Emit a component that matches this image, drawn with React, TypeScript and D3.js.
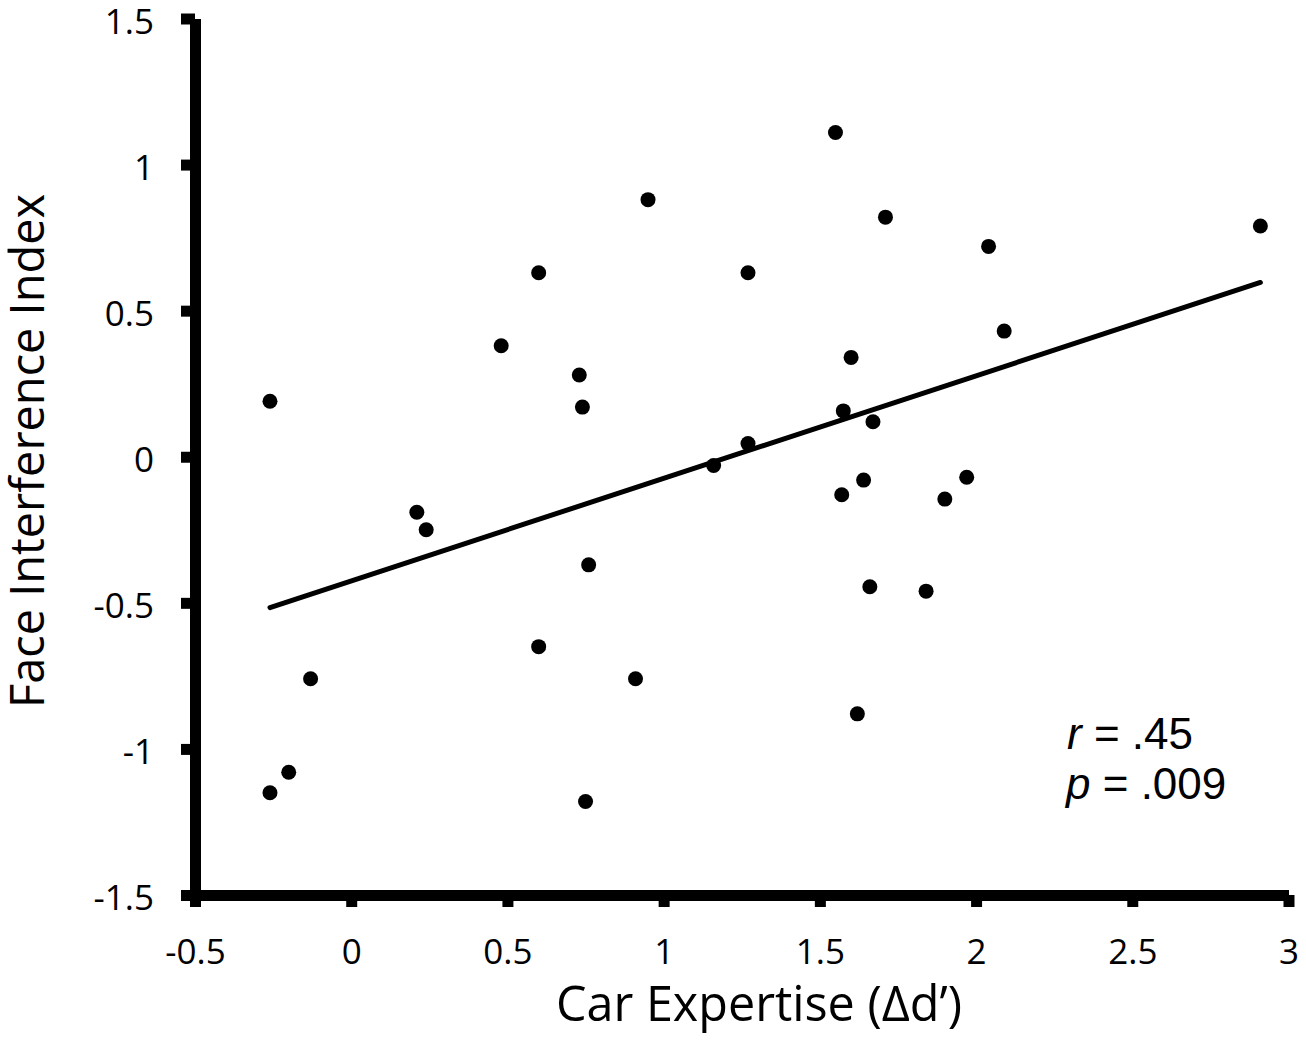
import { useEffect, useRef } from 'react';
import * as d3 from 'd3';

// Car expertise (Δd') per participant
const expertise = [
  -0.26, 0.95, 0.60, 1.27, 0.48, 0.73, 0.74, 1.27, 1.16, 0.21, 0.24,
  0.76, 0.60, -0.13, 0.91, -0.20, -0.26, 0.75, 1.55, 1.71, 2.91, 2.04,
  2.09, 1.60, 1.575, 1.67, 1.64, 1.57, 1.97, 1.90, 1.66, 1.84, 1.62
];

// Face interference index per participant
const interference = [
  0.19, 0.88, 0.63, 0.63, 0.38, 0.28, 0.17, 0.045, -0.03, -0.19, -0.25,
  -0.37, -0.65, -0.76, -0.76, -1.08, -1.15, -1.18, 1.11, 0.82, 0.79, 0.72,
  0.43, 0.34, 0.157, 0.12, -0.08, -0.13, -0.07, -0.145, -0.445, -0.46, -0.88
];

const xTicks = [-0.5, 0, 0.5, 1, 1.5, 2, 2.5, 3];
const yTicks = [-1.5, -1, -0.5, 0, 0.5, 1, 1.5];

// fitted regression line
const fitSlope = 0.351;
const fitIntercept = -0.425;

const statR = '.45';
const statP = '.009';

const W = 1306;
const H = 1040;

// grow/shrink a title's font so it spans roughly the same width as the original
function fitText(sel: d3.Selection<SVGTextElement, unknown, null, undefined>, target: number) {
  const node = sel.node();
  if (!node) return;
  const len = node.getComputedTextLength();
  const size = parseFloat(sel.style('font-size'));
  if (len > 0) sel.style('font-size', `${(size * target / len).toFixed(1)}px`);
}

export default function App() {
  const svgRef = useRef<SVGSVGElement>(null);

  useEffect(() => {
    if (!svgRef.current) return;
    const svg = d3.select(svgRef.current);
    svg.selectAll('*').remove();

    const x = d3.scaleLinear().domain([-0.5, 3]).range([195, 1288.5]);
    const y = d3.scaleLinear().domain([-1.5, 1.5]).range([895, 18.5]);

    const labelFont = '"Open Sans", Lato, sans-serif';

    // Regression line
    const [x0, x1] = d3.extent(expertise) as [number, number];
    const fit = [x0, x1].map(v => [v, fitIntercept + fitSlope * v] as [number, number]);
    svg.append('path')
      .attr('d', d3.line()(fit.map(d => [x(d[0]), y(d[1])])))
      .attr('stroke', '#000')
      .attr('stroke-width', 5)
      .attr('stroke-linecap', 'round')
      .attr('fill', 'none');

    // Points
    svg.append('g')
      .selectAll('circle')
      .data(expertise.map((v, i) => ({ x: v, y: interference[i] })))
      .enter().append('circle')
      .attr('cx', d => x(d.x))
      .attr('cy', d => y(d.y))
      .attr('r', 7.5)
      .attr('fill', '#000');

    // Axes
    const fmt = (d: d3.NumberValue) => String(d);

    const gx = svg.append('g')
      .attr('transform', `translate(0,${y(-1.5)})`)
      .call(d3.axisBottom(x).tickValues(xTicks).tickFormat(fmt)
        .tickSize(12).tickSizeOuter(0).tickPadding(32));

    const gy = svg.append('g')
      .attr('transform', `translate(${x(-0.5)},0)`)
      .call(d3.axisLeft(y).tickValues(yTicks).tickFormat(fmt)
        .tickSize(14).tickSizeOuter(0).tickPadding(27));

    [gx, gy].forEach(g => {
      g.select('.domain').attr('stroke', '#000').attr('stroke-width', 11);
      g.selectAll('.tick line').attr('stroke', '#000').attr('stroke-width', 11);
      g.selectAll('.tick text')
        .attr('fill', '#000')
        .style('font-family', labelFont)
        .style('font-size', '35px');
    });
    gy.selectAll('.tick text').attr('dy', '0.42em');

    // Axis titles
    const xTitle = svg.append('text')
      .attr('x', 759)
      .attr('y', 1021)
      .attr('text-anchor', 'middle')
      .style('font-family', labelFont)
      .style('font-size', '44px')
      .text('Car Expertise (Δd’)');
    fitText(xTitle, 406);

    const yTitle = svg.append('text')
      .attr('transform', 'translate(44,451) rotate(-90)')
      .attr('text-anchor', 'middle')
      .style('font-family', labelFont)
      .style('font-size', '44px')
      .text('Face Interference Index');
    fitText(yTitle, 514);

    // Stats
    const stats = svg.append('g')
      .style('font-family', '"Liberation Sans", Arial, sans-serif')
      .style('font-size', '44px');
    const tr = stats.append('text').attr('x', 1067).attr('y', 749);
    tr.append('tspan').style('font-style', 'italic').text('r');
    tr.append('tspan').text(` = ${statR}`);
    const tp = stats.append('text').attr('x', 1066).attr('y', 799);
    tp.append('tspan').style('font-style', 'italic').text('p');
    tp.append('tspan').text(` = ${statP}`);
  }, []);

  return (
    <svg
      ref={svgRef}
      width={W}
      height={H}
      style={{ position: 'absolute', left: 0, top: 0, background: '#fff' }}
    />
  );
}
